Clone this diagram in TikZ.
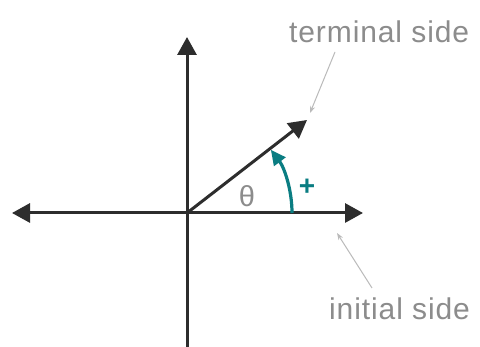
\documentclass[tikz,border=0pt]{standalone}
\usepackage{fontspec}
\setmainfont{Liberation Sans}
\newfontfamily\labfont[LetterSpace=3]{Liberation Sans}
\usetikzlibrary{arrows.meta}
\definecolor{tealc}{RGB}{10,125,130}
\definecolor{axisc}{RGB}{45,45,45}
\definecolor{labc}{RGB}{140,140,140}
\begin{document}
\begin{tikzpicture}[x=1pt,y=-1pt,
  axis/.style={draw=axisc,line width=3pt,-{Triangle[length=18pt,width=19pt]}},
  leader/.style={draw=labc!60,line width=1pt,-{Stealth[length=7pt,width=5pt]}},
  lab/.style={text=labc,font=\labfont\fontsize{30}{32}\selectfont,inner sep=0pt}]
\useasboundingbox (0,0) rectangle (480,347);
\fill[white] (0,0) rectangle (480,347);
\coordinate (O) at (187,213);
\coordinate (R) at (363,213);
\coordinate (L) at (12,213);
\coordinate (T) at (187,37);
\coordinate (B) at (187,347);
\coordinate (P) at (307,120);
\draw[axis] (O) -- (R);
\draw[axis] (O) -- (L);
\draw[axis] (O) -- (T);
\draw[draw=axisc,line width=3pt] (O) -- (B);
\draw[axis] (O) -- (P);
\draw[draw=tealc,line width=3.2pt,-{Triangle[length=15pt,width=14pt]}] (292,213) arc[start angle=0,end angle=-37,radius=105];
\node[text=tealc,font=\fontsize{28}{28}\selectfont\bfseries,inner sep=0pt] (plus) at (307,187) {+};
\node[text=labc,font=\fontsize{29}{29}\selectfont,inner sep=0pt] (theta) at (247,196) {θ};
\node[lab,anchor=base west] (term) at (289,43) {terminal side};
\node[lab,anchor=base west] (init) at (329,320) {initial side};
\coordinate (ta) at (335,52);
\coordinate (te) at (310,113);
\coordinate (ia) at (372,288);
\coordinate (ie) at (337,233);
\draw[leader] (ta) -- (te);
\draw[leader] (ia) -- (ie);
\end{tikzpicture}
\end{document}
